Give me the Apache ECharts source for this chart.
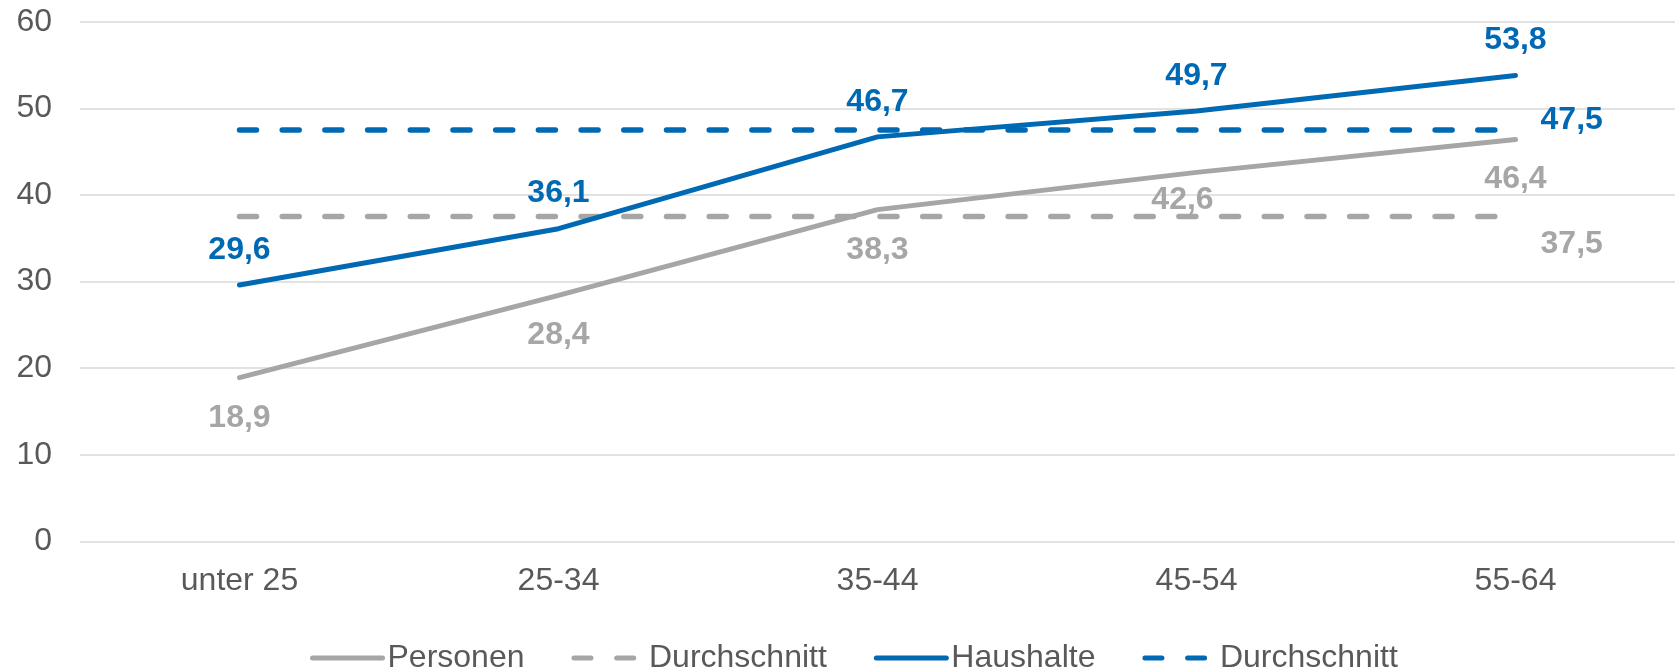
<!DOCTYPE html>
<html>
<head>
<meta charset="utf-8">
<script src="https://cdn.jsdelivr.net/npm/echarts@6/dist/echarts.min.js"></script>
<style>
html,body{margin:0;padding:0;background:#fff;}
#chart{width:1675px;height:669px;}
</style>
</head>
<body>
<div id="chart"></div>
<script>
const categories = ['unter 25', '25-34', '35-44', '45-54', '55-64'];
const personen = [18.9, 28.4, 38.3, 42.6, 46.4];
const durchschnittPersonen = [37.5, 37.5, 37.5, 37.5, 37.5];
const haushalte = [29.6, 36.1, 46.7, 49.7, 53.8];
const durchschnittHaushalte = [47.5, 47.5, 47.5, 47.5, 47.5];
const yTicks = [0, 10, 20, 30, 40, 50, 60];

const GRAY = '#A6A6A6';
const BLUE = '#0069B4';
const TEXT = '#595959';
const FONT = '"Liberation Sans", Arial, sans-serif';

const fmt = v => String(v).replace('.', ',');

function personenData() {
  return personen.map((v, i) => {
    const item = {value: v};
    if (i === 3) item.label = {distance: 12, offset: [-14, 0]};
    return item;
  });
}
function avgData(arr, offsetY) {
  return arr.map((v, i) => {
    const item = {value: v};
    if (i === arr.length - 1) {
      item.label = {show: true, position: 'right', distance: 25, offset: [0, offsetY]};
    }
    return item;
  });
}

const labelBase = {fontFamily: FONT, fontSize: 32, fontWeight: 'bold', formatter: p => fmt(p.value)};
const hiddenSymbol = {symbol: 'circle', symbolSize: 0.1, showSymbol: true};
const DASH = [17, 25.7];

const chart = echarts.init(document.getElementById('chart'), null, {renderer: 'canvas'});
chart.setOption({
  animation: false,
  backgroundColor: '#fff',
  grid: {left: 80, right: -4, top: 21.7, bottom: 127.7, containLabel: false},
  xAxis: {
    type: 'category',
    data: categories,
    boundaryGap: true,
    axisLine: {show: false},
    axisTick: {show: false},
    axisLabel: {color: TEXT, fontFamily: FONT, fontSize: 32, margin: 24}
  },
  yAxis: {
    type: 'value',
    min: yTicks[0],
    max: yTicks[yTicks.length - 1],
    interval: 10,
    axisLine: {show: false},
    axisTick: {show: false},
    axisLabel: {color: TEXT, fontFamily: FONT, fontSize: 32, margin: 28, padding: [12, 0, 0, 0]},
    splitLine: {lineStyle: {color: '#D9D9D9', width: 1.5}}
  },
  legend: {
    left: 305,
    top: 637,
    itemWidth: 70,
    itemHeight: 14,
    itemGap: 47,
    itemStyle: {opacity: 0},
    lineStyle: {width: 5},
    textStyle: {color: TEXT, fontFamily: FONT, fontSize: 32},
    formatter: n => n.startsWith('Durchschnitt') ? 'Durchschnitt' : n,
    data: ['Personen', 'Durchschnitt_P', 'Haushalte', 'Durchschnitt_H']
  },
  series: [
    Object.assign({
      name: 'Personen', type: 'line', data: personenData(),
      color: GRAY,
      lineStyle: {color: GRAY, width: 5, cap: 'round'},
      label: Object.assign({show: true, position: 'bottom', distance: 24, color: GRAY}, labelBase)
    }, hiddenSymbol),
    Object.assign({
      name: 'Durchschnitt_P', type: 'line', data: avgData(durchschnittPersonen, 28),
      color: GRAY,
      lineStyle: {color: GRAY, width: 5.5, type: DASH, cap: 'round'},
      label: Object.assign({show: false, color: GRAY}, labelBase)
    }, hiddenSymbol),
    Object.assign({
      name: 'Haushalte', type: 'line', data: haushalte,
      color: BLUE,
      lineStyle: {color: BLUE, width: 5, cap: 'round'},
      label: Object.assign({show: true, position: 'top', distance: 19, color: BLUE}, labelBase)
    }, hiddenSymbol),
    Object.assign({
      name: 'Durchschnitt_H', type: 'line', data: avgData(durchschnittHaushalte, -10),
      color: BLUE,
      lineStyle: {color: BLUE, width: 5.5, type: DASH, cap: 'round'},
      label: Object.assign({show: false, color: BLUE}, labelBase)
    }, hiddenSymbol)
  ]
});
</script>
</body>
</html>
